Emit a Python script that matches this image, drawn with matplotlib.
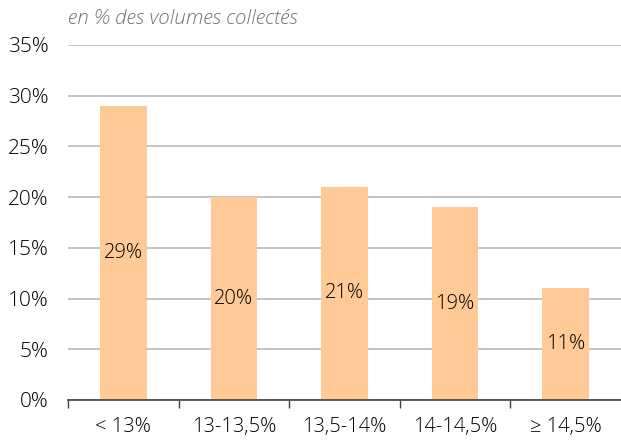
import matplotlib.pyplot as plt

categories = ['< 13%', '13-13,5%', '13,5-14%', '14-14,5%', '\u2265 14,5%']
values = [29, 20, 21, 19, 11]
yticks = [0, 5, 10, 15, 20, 25, 30, 35]

plt.rcParams['font.family'] = ['Open Sans', 'DejaVu Sans']

fig = plt.figure(figsize=(6.21, 4.41), dpi=100)
ax = fig.add_axes([0.1095, 0.093, 0.8905, 0.805])

x = list(range(len(categories)))
bars = ax.bar(x, values, width=0.42, color='#FFCA96', zorder=2)

for xi, v in zip(x, values):
    ax.text(xi, v / 2, f'{v}%', ha='center', va='center', fontsize=14.5,
            color='#000000', fontweight='light', zorder=3)

ax.set_xlim(-0.5, len(categories) - 0.5)
ax.set_ylim(0, 35)
ax.set_yticks(yticks)
ax.set_yticklabels([f'{t}%' for t in yticks], fontsize=15, color='#000000', fontweight='light')
ax.yaxis.grid(True, color='#BFBFBF', linewidth=1.3, zorder=0)
ax.set_axisbelow(True)

# category labels between boundary ticks
ax.set_xticks([i - 0.5 for i in range(len(categories))])
ax.set_xticklabels([])
ax.set_xticks(x, minor=True)
ax.set_xticklabels(categories, minor=True, fontsize=14.5, color='#000000', fontweight='light')
ax.tick_params(axis='x', which='minor', length=0, pad=12)
ax.tick_params(axis='x', which='major', length=6, color='#404040', width=1)
ax.tick_params(axis='y', length=0, pad=14)

for s in ['top', 'right', 'left']:
    ax.spines[s].set_visible(False)
ax.spines['bottom'].set_color('#404040')
ax.spines['bottom'].set_linewidth(1.2)

fig.text(0.109, 0.957, 'en % des volumes collect\u00e9s', fontsize=14.8, style='italic',
         color='#707070', fontweight='light', ha='left', va='center')

plt.savefig('out.png', dpi=100)
